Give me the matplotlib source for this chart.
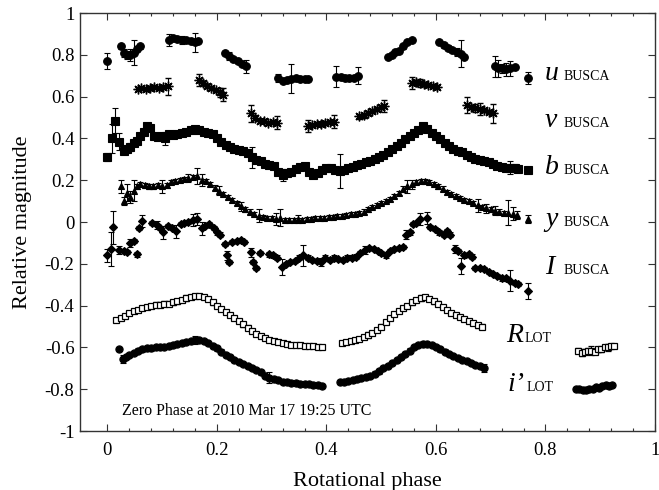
import matplotlib
matplotlib.use("Agg")
import matplotlib.pyplot as plt
from matplotlib.ticker import FixedLocator, FormatStrFormatter

plt.rcParams['font.family'] = ['Liberation Serif', 'DejaVu Serif']
plt.rcParams['axes.unicode_minus'] = False

# u BUSCA
u_phase = [
    0.000, 0.024, 0.030, 0.036, 0.042, 0.048, 0.054, 0.060,
    0.113, 0.120, 0.128, 0.136, 0.144, 0.152, 0.160, 0.166,
    0.214, 0.222, 0.230, 0.238, 0.246, 0.254,
    0.312, 0.320, 0.328, 0.336, 0.344, 0.352, 0.360, 0.366,
    0.418, 0.426, 0.434, 0.442, 0.450, 0.458,
    0.512, 0.520, 0.526, 0.532, 0.540, 0.548, 0.556,
    0.606, 0.614, 0.622, 0.630, 0.638, 0.646, 0.652,
    0.708, 0.714, 0.720, 0.728, 0.736, 0.744,
    0.768]
u_mag = [
    0.77, 0.84, 0.81, 0.80, 0.80, 0.81, 0.83, 0.84,
    0.87, 0.88, 0.875, 0.87, 0.87, 0.865, 0.86, 0.865,
    0.81, 0.795, 0.78, 0.77, 0.755, 0.745,
    0.69, 0.675, 0.68, 0.685, 0.69, 0.685, 0.685, 0.685,
    0.695, 0.695, 0.69, 0.69, 0.69, 0.70,
    0.79, 0.80, 0.815, 0.82, 0.84, 0.86, 0.87,
    0.86, 0.845, 0.835, 0.825, 0.815, 0.805, 0.79,
    0.745, 0.735, 0.735, 0.73, 0.735, 0.74,
    0.69]
u_err = [
    0.04, 0.01, 0.02, 0.02, 0.03, 0.06, 0.01, 0.01,
    0.03, 0.01, 0.01, 0.02, 0.01, 0.01, 0.045, 0.01,
    0.01, 0.02, 0.01, 0.01, 0.01, 0.03,
    0.02, 0.01, 0.01, 0.07, 0.01, 0.01, 0.01, 0.01,
    0.05, 0.01, 0.01, 0.01, 0.01, 0.04,
    0.01, 0.01, 0.01, 0.01, 0.01, 0.01, 0.01,
    0.01, 0.01, 0.01, 0.01, 0.02, 0.065, 0.01,
    0.05, 0.04, 0.02, 0.03, 0.035, 0.01,
    0.03]

# v BUSCA
v_phase = [
    0.055, 0.062, 0.070, 0.078, 0.086, 0.094, 0.102, 0.110,
    0.168, 0.175, 0.182, 0.190, 0.198, 0.206, 0.212,
    0.262, 0.270, 0.278, 0.286, 0.294, 0.302, 0.310,
    0.366, 0.374, 0.382, 0.390, 0.398, 0.406, 0.414,
    0.460, 0.468, 0.476, 0.484, 0.492, 0.500, 0.506,
    0.556, 0.563, 0.570, 0.578, 0.586, 0.594, 0.602,
    0.656, 0.664, 0.672, 0.680, 0.688, 0.696, 0.704]
v_mag = [
    0.635, 0.64, 0.635, 0.64, 0.645, 0.64, 0.645, 0.65,
    0.68, 0.665, 0.65, 0.64, 0.63, 0.62, 0.61,
    0.52, 0.50, 0.485, 0.485, 0.475, 0.48, 0.475,
    0.46, 0.465, 0.47, 0.47, 0.475, 0.48, 0.48,
    0.505, 0.51, 0.52, 0.53, 0.54, 0.55, 0.555,
    0.665, 0.67, 0.665, 0.66, 0.655, 0.65, 0.645,
    0.56, 0.55, 0.545, 0.54, 0.535, 0.525, 0.52]
v_err = [
    0.01, 0.01, 0.01, 0.01, 0.01, 0.01, 0.01, 0.04,
    0.03, 0.01, 0.01, 0.01, 0.01, 0.02, 0.03,
    0.04, 0.01, 0.01, 0.01, 0.01, 0.01, 0.03,
    0.03, 0.01, 0.01, 0.01, 0.01, 0.01, 0.03,
    0.01, 0.01, 0.01, 0.01, 0.01, 0.01, 0.03,
    0.03, 0.01, 0.02, 0.01, 0.01, 0.01, 0.01,
    0.04, 0.01, 0.02, 0.03, 0.01, 0.01, 0.045]

# b BUSCA
b_phase = [
    0.000, 0.008, 0.013, 0.022, 0.030, 0.036, 0.042, 0.048, 0.054, 0.060,
    0.066, 0.072, 0.078, 0.085, 0.092, 0.100, 0.106, 0.112, 0.120, 0.128,
    0.136, 0.144, 0.152, 0.160, 0.168, 0.176, 0.184, 0.192, 0.200, 0.208,
    0.216, 0.224, 0.232, 0.240, 0.248, 0.256, 0.264, 0.272, 0.280, 0.288,
    0.296, 0.304, 0.312, 0.320, 0.328, 0.336, 0.344, 0.352, 0.360, 0.368,
    0.376, 0.384, 0.392, 0.400, 0.408, 0.416, 0.424, 0.432, 0.440, 0.448,
    0.456, 0.464, 0.472, 0.480, 0.488, 0.496, 0.504, 0.512, 0.520, 0.528,
    0.536, 0.544, 0.552, 0.560, 0.568, 0.576, 0.584, 0.592, 0.600, 0.608,
    0.616, 0.624, 0.632, 0.640, 0.648, 0.656, 0.664, 0.672, 0.680, 0.688,
    0.696, 0.704, 0.712, 0.720, 0.728, 0.736, 0.744, 0.750, 0.768]
b_mag = [
    0.31, 0.40, 0.485, 0.385, 0.34, 0.35, 0.36, 0.38, 0.39, 0.41,
    0.43, 0.46, 0.45, 0.41, 0.405, 0.41, 0.40, 0.42, 0.415, 0.42,
    0.425, 0.43, 0.44, 0.445, 0.44, 0.43, 0.425, 0.42, 0.40, 0.385,
    0.37, 0.36, 0.35, 0.345, 0.34, 0.33, 0.31, 0.295, 0.29, 0.28,
    0.275, 0.27, 0.24, 0.225, 0.235, 0.24, 0.255, 0.265, 0.27, 0.24,
    0.225, 0.235, 0.25, 0.26, 0.26, 0.25, 0.245, 0.25, 0.26, 0.265,
    0.275, 0.28, 0.285, 0.29, 0.30, 0.31, 0.32, 0.335, 0.35, 0.365,
    0.38, 0.395, 0.41, 0.425, 0.44, 0.46, 0.445, 0.425, 0.41, 0.395,
    0.38, 0.365, 0.35, 0.34, 0.335, 0.32, 0.31, 0.30, 0.295, 0.29,
    0.285, 0.28, 0.27, 0.265, 0.26, 0.26, 0.26, 0.255, 0.25]
b_err = [
    0.02, 0.07, 0.06, 0.04, 0.01, 0.01, 0.02, 0.01, 0.01, 0.01,
    0.01, 0.01, 0.01, 0.01, 0.01, 0.01, 0.03, 0.01, 0.01, 0.01,
    0.01, 0.01, 0.01, 0.01, 0.01, 0.01, 0.01, 0.01, 0.01, 0.01,
    0.01, 0.01, 0.01, 0.01, 0.01, 0.01, 0.05, 0.01, 0.01, 0.01,
    0.01, 0.01, 0.01, 0.03, 0.01, 0.01, 0.01, 0.01, 0.01, 0.01,
    0.01, 0.01, 0.01, 0.01, 0.01, 0.01, 0.08, 0.01, 0.01, 0.01,
    0.01, 0.01, 0.01, 0.01, 0.01, 0.01, 0.01, 0.01, 0.01, 0.01,
    0.01, 0.01, 0.01, 0.01, 0.01, 0.01, 0.01, 0.01, 0.01, 0.01,
    0.01, 0.01, 0.01, 0.01, 0.01, 0.01, 0.01, 0.01, 0.01, 0.01,
    0.01, 0.01, 0.01, 0.01, 0.01, 0.03, 0.02, 0.01, 0.01]

# y BUSCA
y_phase = [
    0.024, 0.030, 0.036, 0.042, 0.048, 0.054, 0.060, 0.068, 0.076, 0.084,
    0.092, 0.100, 0.108, 0.116, 0.124, 0.132, 0.140, 0.148, 0.156, 0.164,
    0.172, 0.180, 0.188, 0.196, 0.204, 0.212, 0.220, 0.228, 0.236, 0.244,
    0.252, 0.260, 0.268, 0.276, 0.284, 0.292, 0.300, 0.308, 0.316, 0.324,
    0.332, 0.340, 0.348, 0.356, 0.364, 0.372, 0.380, 0.388, 0.396, 0.404,
    0.412, 0.420, 0.428, 0.436, 0.444, 0.452, 0.460, 0.468, 0.476, 0.484,
    0.492, 0.500, 0.508, 0.516, 0.524, 0.532, 0.540, 0.548, 0.556, 0.564,
    0.572, 0.580, 0.588, 0.596, 0.604, 0.612, 0.620, 0.628, 0.636, 0.644,
    0.652, 0.660, 0.668, 0.676, 0.684, 0.692, 0.700, 0.708, 0.716, 0.724,
    0.732, 0.740, 0.748, 0.768]
y_mag = [
    0.17, 0.10, 0.14, 0.12, 0.15, 0.17, 0.18, 0.175, 0.17, 0.17,
    0.175, 0.17, 0.175, 0.19, 0.195, 0.20, 0.205, 0.21, 0.215, 0.22,
    0.20, 0.195, 0.18, 0.165, 0.15, 0.135, 0.12, 0.105, 0.09, 0.075,
    0.06, 0.05, 0.04, 0.03, 0.025, 0.02, 0.02, 0.015, 0.02, 0.01,
    0.01, 0.01, 0.015, 0.01, 0.015, 0.015, 0.02, 0.02, 0.02, 0.025,
    0.025, 0.03, 0.03, 0.035, 0.04, 0.04, 0.045, 0.05, 0.06, 0.07,
    0.08, 0.09, 0.10, 0.11, 0.125, 0.14, 0.16, 0.17, 0.18, 0.19,
    0.195, 0.195, 0.19, 0.18, 0.17, 0.16, 0.145, 0.135, 0.125, 0.115,
    0.105, 0.10, 0.09, 0.08, 0.07, 0.065, 0.06, 0.055, 0.05, 0.045,
    0.045, 0.04, 0.035, 0.015]
y_err = [
    0.03, 0.02, 0.04, 0.03, 0.05, 0.01, 0.01, 0.01, 0.01, 0.01,
    0.01, 0.03, 0.01, 0.01, 0.01, 0.01, 0.01, 0.02, 0.01, 0.04,
    0.03, 0.01, 0.01, 0.01, 0.02, 0.01, 0.01, 0.01, 0.01, 0.02,
    0.01, 0.01, 0.01, 0.03, 0.01, 0.01, 0.01, 0.03, 0.04, 0.01,
    0.01, 0.01, 0.02, 0.01, 0.01, 0.01, 0.01, 0.01, 0.01, 0.01,
    0.01, 0.01, 0.01, 0.01, 0.01, 0.01, 0.01, 0.01, 0.01, 0.01,
    0.01, 0.01, 0.01, 0.01, 0.01, 0.01, 0.01, 0.03, 0.02, 0.01,
    0.01, 0.01, 0.01, 0.01, 0.01, 0.01, 0.01, 0.01, 0.01, 0.01,
    0.01, 0.01, 0.01, 0.03, 0.01, 0.02, 0.01, 0.02, 0.01, 0.01,
    0.06, 0.03, 0.02, 0.02]

# I BUSCA
I_phase = [
    0.000, 0.006, 0.011, 0.022, 0.030, 0.036, 0.042, 0.048, 0.054, 0.058,
    0.064, 0.082, 0.090, 0.096, 0.102, 0.110, 0.118, 0.126, 0.134, 0.140,
    0.148, 0.156, 0.164, 0.172, 0.178, 0.186, 0.194, 0.200, 0.206, 0.214,
    0.218, 0.222, 0.228, 0.236, 0.244, 0.250, 0.262, 0.266, 0.272, 0.278,
    0.296, 0.302, 0.310, 0.318, 0.326, 0.334, 0.342, 0.350, 0.358, 0.366,
    0.374, 0.382, 0.390, 0.398, 0.406, 0.414, 0.422, 0.430, 0.438, 0.446,
    0.454, 0.462, 0.470, 0.478, 0.486, 0.494, 0.500, 0.508, 0.516, 0.524,
    0.532, 0.540, 0.546, 0.552, 0.558, 0.564, 0.570, 0.583, 0.590, 0.598,
    0.606, 0.614, 0.620, 0.626, 0.634, 0.640, 0.646, 0.652, 0.660, 0.666,
    0.672, 0.680, 0.688, 0.696, 0.704, 0.712, 0.720, 0.728, 0.736, 0.744,
    0.750, 0.768]
I_mag = [
    -0.16, -0.13, -0.025, -0.135, -0.14, -0.145, -0.10, -0.09, -0.155, -0.03,
    0.005, -0.005, -0.015, -0.03, -0.05, -0.02, -0.03, -0.045, -0.01, -0.005,
    0.0, 0.01, 0.015, -0.03, -0.02, -0.01, -0.03, -0.05, -0.06, -0.105,
    -0.16, -0.19, -0.095, -0.09, -0.085, -0.095, -0.145, -0.19, -0.22, -0.15,
    -0.155, -0.16, -0.17, -0.215, -0.20, -0.19, -0.185, -0.17, -0.16, -0.17,
    -0.18, -0.185, -0.19, -0.17, -0.18, -0.17, -0.175, -0.18, -0.17, -0.17,
    -0.165, -0.15, -0.135, -0.125, -0.13, -0.14, -0.15, -0.16, -0.14, -0.13,
    -0.125, -0.12, -0.06, -0.05, -0.01, -0.005, 0.015, 0.02, -0.025, -0.035,
    -0.05, -0.06, -0.045, -0.06, -0.13, -0.14, -0.21, -0.16, -0.155, -0.165,
    -0.22, -0.22, -0.225, -0.24, -0.25, -0.26, -0.27, -0.27, -0.28, -0.29,
    -0.295, -0.33]
I_err = [
    0.03, 0.08, 0.08, 0.02, 0.01, 0.01, 0.02, 0.01, 0.01, 0.01,
    0.03, 0.01, 0.02, 0.01, 0.03, 0.01, 0.01, 0.03, 0.01, 0.01,
    0.01, 0.03, 0.03, 0.03, 0.01, 0.01, 0.01, 0.01, 0.01, 0.01,
    0.02, 0.01, 0.01, 0.01, 0.01, 0.01, 0.02, 0.01, 0.01, 0.01,
    0.01, 0.01, 0.01, 0.04, 0.01, 0.01, 0.01, 0.01, 0.05, 0.01,
    0.01, 0.01, 0.02, 0.01, 0.01, 0.01, 0.01, 0.01, 0.01, 0.01,
    0.01, 0.01, 0.02, 0.01, 0.01, 0.01, 0.01, 0.01, 0.01, 0.01,
    0.01, 0.01, 0.02, 0.01, 0.01, 0.01, 0.03, 0.03, 0.01, 0.01,
    0.01, 0.01, 0.01, 0.01, 0.02, 0.01, 0.04, 0.01, 0.01, 0.01,
    0.01, 0.01, 0.01, 0.01, 0.01, 0.01, 0.01, 0.01, 0.05, 0.01,
    0.01, 0.04]

# R LOT
R_phase = [
    0.016, 0.024, 0.032, 0.040, 0.048, 0.056, 0.064, 0.072, 0.080, 0.088,
    0.096, 0.104, 0.112, 0.120, 0.128, 0.136, 0.144, 0.152, 0.160, 0.168,
    0.176, 0.184, 0.192, 0.200, 0.208, 0.216, 0.224, 0.232, 0.240, 0.248,
    0.256, 0.264, 0.272, 0.280, 0.288, 0.296, 0.304, 0.312, 0.320, 0.328,
    0.336, 0.344, 0.352, 0.360, 0.368, 0.376, 0.384, 0.392, 0.428, 0.436,
    0.444, 0.452, 0.460, 0.468, 0.476, 0.484, 0.492, 0.500, 0.508, 0.516,
    0.524, 0.532, 0.540, 0.548, 0.556, 0.564, 0.572, 0.580, 0.588, 0.596,
    0.604, 0.612, 0.620, 0.628, 0.636, 0.644, 0.652, 0.660, 0.668, 0.676,
    0.684, 0.860, 0.866, 0.872, 0.878, 0.884, 0.890, 0.896, 0.902, 0.908,
    0.914, 0.920, 0.926]
R_mag = [
    -0.47, -0.46, -0.45, -0.435, -0.425, -0.42, -0.41, -0.405, -0.40, -0.395,
    -0.395, -0.39, -0.39, -0.385, -0.38, -0.375, -0.365, -0.36, -0.355, -0.355,
    -0.36, -0.37, -0.385, -0.40, -0.415, -0.43, -0.445, -0.46, -0.475, -0.49,
    -0.505, -0.52, -0.535, -0.545, -0.555, -0.565, -0.57, -0.575, -0.58, -0.585,
    -0.59, -0.59, -0.59, -0.595, -0.595, -0.595, -0.60, -0.60, -0.58, -0.575,
    -0.57, -0.565, -0.56, -0.55, -0.54, -0.53, -0.515, -0.50, -0.48, -0.46,
    -0.44, -0.425, -0.41, -0.40, -0.385, -0.375, -0.365, -0.36, -0.37, -0.38,
    -0.39, -0.405, -0.42, -0.435, -0.445, -0.455, -0.465, -0.475, -0.485, -0.495,
    -0.50, -0.615, -0.625, -0.62, -0.615, -0.615, -0.62, -0.61, -0.61, -0.60,
    -0.60, -0.595, -0.595]
R_err = [
    0.01, 0.01, 0.01, 0.01, 0.01, 0.01, 0.01, 0.01, 0.01, 0.01,
    0.01, 0.01, 0.01, 0.01, 0.01, 0.01, 0.015, 0.01, 0.01, 0.01,
    0.01, 0.01, 0.01, 0.01, 0.01, 0.01, 0.01, 0.01, 0.01, 0.01,
    0.01, 0.01, 0.01, 0.01, 0.01, 0.01, 0.01, 0.01, 0.01, 0.01,
    0.01, 0.01, 0.01, 0.01, 0.01, 0.01, 0.01, 0.01, 0.01, 0.01,
    0.01, 0.01, 0.01, 0.01, 0.015, 0.01, 0.01, 0.01, 0.01, 0.01,
    0.01, 0.01, 0.01, 0.01, 0.01, 0.01, 0.015, 0.01, 0.01, 0.01,
    0.01, 0.01, 0.01, 0.01, 0.01, 0.01, 0.01, 0.01, 0.01, 0.01,
    0.01, 0.01, 0.015, 0.01, 0.01, 0.02, 0.01, 0.01, 0.01, 0.01,
    0.015, 0.01, 0.01]

# i' LOT
i_phase = [
    0.022, 0.028, 0.034, 0.040, 0.048, 0.056, 0.064, 0.072, 0.080, 0.088,
    0.096, 0.104, 0.112, 0.120, 0.128, 0.136, 0.144, 0.152, 0.160, 0.168,
    0.176, 0.184, 0.192, 0.200, 0.208, 0.216, 0.224, 0.232, 0.240, 0.248,
    0.256, 0.264, 0.272, 0.280, 0.288, 0.296, 0.304, 0.312, 0.320, 0.328,
    0.336, 0.344, 0.352, 0.360, 0.368, 0.376, 0.384, 0.392, 0.424, 0.432,
    0.440, 0.448, 0.456, 0.464, 0.472, 0.480, 0.488, 0.496, 0.504, 0.512,
    0.520, 0.528, 0.536, 0.544, 0.552, 0.560, 0.568, 0.576, 0.584, 0.592,
    0.600, 0.608, 0.616, 0.624, 0.632, 0.640, 0.648, 0.656, 0.664, 0.672,
    0.680, 0.688, 0.855, 0.862, 0.868, 0.874, 0.880, 0.886, 0.892, 0.898,
    0.904, 0.910, 0.916, 0.922]
i_mag = [
    -0.61, -0.655, -0.645, -0.635, -0.625, -0.615, -0.61, -0.605, -0.605, -0.60,
    -0.60, -0.60, -0.595, -0.59, -0.585, -0.58, -0.575, -0.57, -0.565, -0.565,
    -0.57, -0.58, -0.595, -0.605, -0.62, -0.635, -0.645, -0.66, -0.67, -0.68,
    -0.69, -0.70, -0.71, -0.72, -0.735, -0.745, -0.75, -0.755, -0.765, -0.765,
    -0.77, -0.77, -0.775, -0.775, -0.775, -0.78, -0.78, -0.785, -0.765, -0.765,
    -0.76, -0.755, -0.75, -0.745, -0.74, -0.735, -0.725, -0.715, -0.70, -0.69,
    -0.675, -0.66, -0.645, -0.63, -0.615, -0.60, -0.59, -0.585, -0.585, -0.59,
    -0.60, -0.61, -0.62, -0.63, -0.64, -0.65, -0.66, -0.665, -0.675, -0.685,
    -0.69, -0.70, -0.80, -0.80, -0.805, -0.805, -0.80, -0.80, -0.79, -0.795,
    -0.785, -0.78, -0.785, -0.78]
i_err = [
    0.005, 0.02, 0.01, 0.01, 0.01, 0.01, 0.01, 0.01, 0.01, 0.01,
    0.01, 0.01, 0.01, 0.01, 0.01, 0.01, 0.01, 0.01, 0.02, 0.01,
    0.01, 0.01, 0.01, 0.01, 0.01, 0.01, 0.01, 0.01, 0.01, 0.01,
    0.01, 0.01, 0.01, 0.01, 0.01, 0.025, 0.01, 0.01, 0.01, 0.01,
    0.01, 0.01, 0.01, 0.01, 0.01, 0.01, 0.01, 0.01, 0.01, 0.01,
    0.01, 0.01, 0.01, 0.01, 0.01, 0.01, 0.01, 0.01, 0.01, 0.01,
    0.01, 0.01, 0.01, 0.01, 0.01, 0.01, 0.01, 0.015, 0.01, 0.01,
    0.01, 0.01, 0.01, 0.01, 0.01, 0.01, 0.01, 0.01, 0.01, 0.01,
    0.01, 0.02, 0.01, 0.01, 0.01, 0.01, 0.01, 0.01, 0.01, 0.01,
    0.01, 0.01, 0.01, 0.01]

# label text: (letter, subscript, x letter, x subscript, baseline y)
labels = [
    ("u", "BUSCA", 0.799, 0.833, 0.678),
    ("v", "BUSCA", 0.799, 0.833, 0.457),
    ("b", "BUSCA", 0.799, 0.833, 0.231),
    ("y", "BUSCA", 0.799, 0.833, -0.019),
    ("I", "BUSCA", 0.799, 0.833, -0.250),
    ("R", "LOT", 0.729, 0.761, -0.572),
    ("i\u2019", "LOT", 0.731, 0.766, -0.808),
]

fig = plt.figure(figsize=(6.59, 4.90), dpi=100)
ax = fig.add_axes([0.1214, 0.1204, 0.8725, 0.853])


def draw(x, y, e, marker, ms, face='black', mew=0.8):
    ax.errorbar(x, y, yerr=e, fmt='', marker=marker, ms=ms, mfc=face, mec='black',
                mew=mew, color='black', ecolor='black', elinewidth=0.8, capsize=2.5,
                capthick=0.8, linestyle='none')


draw(u_phase, u_mag, u_err, 'o', 5.5)
draw(v_phase, v_mag, v_err, (8, 2, 0), 7.0, mew=1.0)
draw(b_phase, b_mag, b_err, 's', 5.6)
draw(y_phase, y_mag, y_err, '^', 5.0)
draw(I_phase, I_mag, I_err, 'D', 4.2)
draw(R_phase, R_mag, R_err, 's', 5.0, face='white', mew=0.9)
draw(i_phase, i_mag, i_err, 'o', 5.2)

for letter, sub, xl, xs, yb in labels:
    ax.text(xl, yb, letter, fontsize=20, fontstyle='italic', va='baseline', ha='left')
    ax.text(xs, yb, sub, fontsize=10, va='baseline', ha='left')

ax.text(0.026, -0.923, "Zero Phase at 2010 Mar 17 19:25 UTC", fontsize=11.5,
        va='baseline', ha='left')

ax.set_xlim(-0.05, 1.0)
ax.set_ylim(-1, 1)
ax.xaxis.set_major_locator(FixedLocator([0, 0.2, 0.4, 0.6, 0.8, 1.0]))
ax.xaxis.set_minor_locator(FixedLocator([i * 0.04 for i in range(26)]))
ax.yaxis.set_major_locator(FixedLocator([-1, -0.8, -0.6, -0.4, -0.2, 0, 0.2, 0.4, 0.6, 0.8, 1]))
ax.xaxis.set_major_formatter(FormatStrFormatter('%g'))
ax.yaxis.set_major_formatter(FormatStrFormatter('%g'))
ax.tick_params(which='both', direction='in', top=True, right=True, labelsize=13.5,
               width=0.8, color='#333333')
ax.tick_params(which='major', length=5)
ax.tick_params(axis='x', which='major', pad=8)
ax.tick_params(axis='y', which='major', pad=4)
ax.tick_params(which='minor', length=2.5)
for s in ax.spines.values():
    s.set_linewidth(1.0)
    s.set_color('#333333')

ax.set_xlabel("Rotational phase", fontsize=16, labelpad=9)
ax.set_ylabel("Relative magnitude", fontsize=16, labelpad=9)

fig.savefig("out.png", dpi=100)
